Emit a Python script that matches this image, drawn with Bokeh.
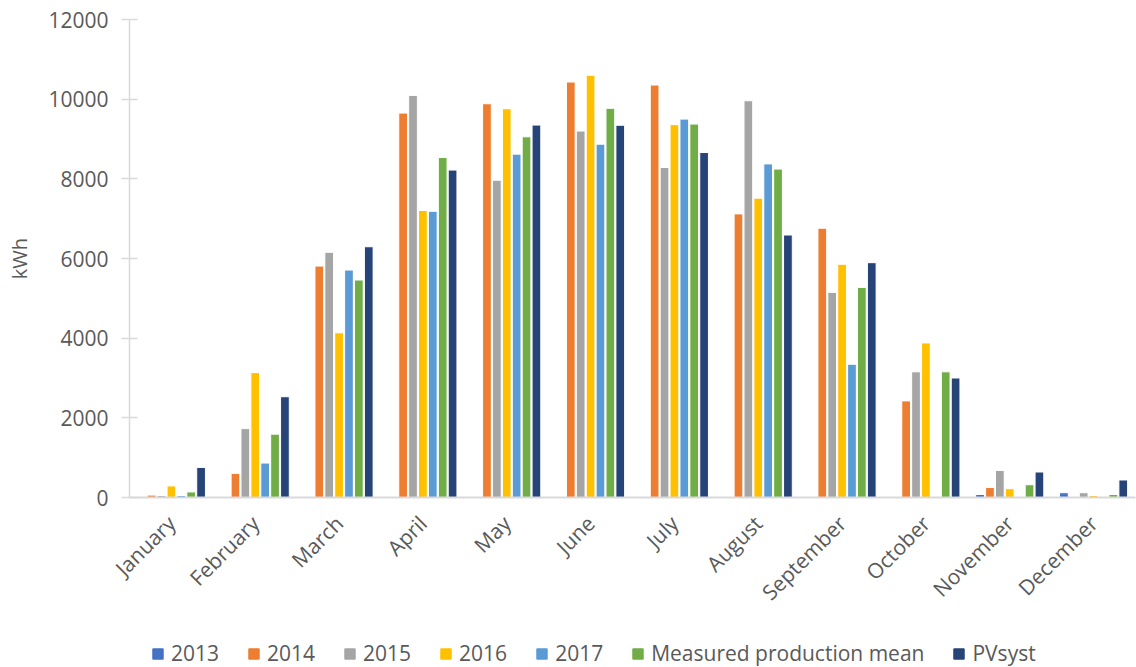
import math
from bokeh.plotting import figure
from bokeh.layouts import column
from bokeh.models import Range1d, FactorRange, Legend, LegendItem, ColumnDataSource, FixedTicker
from bokeh.transform import dodge
from bokeh.embed import file_html
from bokeh.resources import INLINE

months = ["January", "February", "March", "April", "May", "June", "July",
          "August", "September", "October", "November", "December"]
series_names = ["2013", "2014", "2015", "2016", "2017", "Measured production mean", "PVsyst"]
s2013 = [0, 0, 0, 0, 0, 0, 0, 0, 0, 0, 75, 120]
s2014 = [60, 605, 5810, 9650, 9885, 10430, 10355, 7120, 6760, 2425, 250, 10]
s2015 = [50, 1730, 6155, 10095, 7965, 9200, 8285, 9960, 5150, 3155, 680, 120]
s2016 = [290, 3135, 4135, 7205, 9760, 10600, 9360, 7515, 5855, 3880, 220, 50]
s2017 = [50, 865, 5710, 7185, 8620, 8870, 9500, 8375, 3345, 0, 0, 0]
smean = [140, 1590, 5460, 8535, 9055, 9770, 9375, 8245, 5275, 3155, 320, 75]
spvsyst = [755, 2530, 6295, 8220, 9350, 9345, 8660, 6590, 5895, 3000, 640, 440]
colors = ["#4472C4", "#ED7D31", "#A5A5A5", "#FFC000", "#5B9BD5", "#70AD47", "#264478"]
y_ticks = [0, 2000, 4000, 6000, 8000, 10000, 12000]

data = [s2013, s2014, s2015, s2016, s2017, smean, spvsyst]
src = ColumnDataSource(dict(month=months, **{f"s{i}": d for i, d in enumerate(data)}))

FONT = "Open Sans"
TXT = "#595959"

p = figure(width=1136, height=630, x_range=FactorRange(*months), y_range=Range1d(0, 12000),
           output_backend="svg", toolbar_location=None,
           min_border_left=129, min_border_right=1, min_border_top=19, min_border_bottom=133)
p.outline_line_color = None
p.xgrid.grid_line_color = None
p.ygrid.grid_line_color = None

pitch = 0.118
for i, name in enumerate(series_names):
    p.vbar(x=dodge("month", (i - 3) * pitch, range=p.x_range), top=f"s{i}", width=0.104,
           source=src, fill_color=colors[i], line_color="white", line_width=1)

p.yaxis.ticker = FixedTicker(ticks=y_ticks)
p.yaxis.axis_line_color = "#D9D9D9"
p.yaxis.axis_line_width = 1.5
p.yaxis.major_tick_line_color = "#D9D9D9"
p.yaxis.major_tick_line_width = 1.5
p.yaxis.major_tick_in = 8
p.yaxis.major_tick_out = 8
p.yaxis.minor_tick_line_color = None
p.yaxis.major_label_text_font = FONT
p.yaxis.major_label_text_font_size = "21px"
p.yaxis.major_label_text_color = TXT
p.yaxis.major_label_standoff = 13
p.yaxis.axis_label = "kWh"
p.yaxis.axis_label_text_font = FONT
p.yaxis.axis_label_text_font_size = "20px"
p.yaxis.axis_label_text_font_style = "normal"
p.yaxis.axis_label_text_color = TXT
p.yaxis.axis_label_standoff = 12

p.xaxis.axis_line_color = "#D9D9D9"
p.xaxis.axis_line_width = 2
p.xaxis.major_tick_line_color = None
p.xaxis.minor_tick_line_color = None
p.xaxis.major_label_orientation = math.pi / 4
p.xaxis.major_label_text_font = FONT
p.xaxis.major_label_text_font_size = "21px"
p.xaxis.major_label_text_color = TXT
p.xaxis.major_label_standoff = 16

# legend in a separate strip below
lg = figure(width=1136, height=37, x_range=Range1d(0, 1), y_range=Range1d(0, 1),
            output_backend="svg", toolbar_location=None, min_border=0)
lg.outline_line_color = None
lg.axis.visible = False
lg.grid.visible = False
items = []
for i, name in enumerate(series_names):
    dummy = ColumnDataSource(dict(x=[-5.0], top=[0.0]))
    r = lg.vbar(x="x", top="top", width=0.1, source=dummy,
                fill_color=colors[i], line_color=colors[i], line_width=1)
    items.append(LegendItem(label=name, renderers=[r]))
legend = Legend(items=items, orientation="horizontal", location=(22, 0),
                label_text_font=FONT, label_text_font_size="21px", label_text_color=TXT,
                glyph_width=13, glyph_height=13, spacing=28, label_standoff=7,
                border_line_color=None, background_fill_alpha=0, margin=0, padding=2)
lg.add_layout(legend, "center")

layout = column(p, lg, spacing=0)
open("out.html", "w").write(file_html(layout, INLINE))
